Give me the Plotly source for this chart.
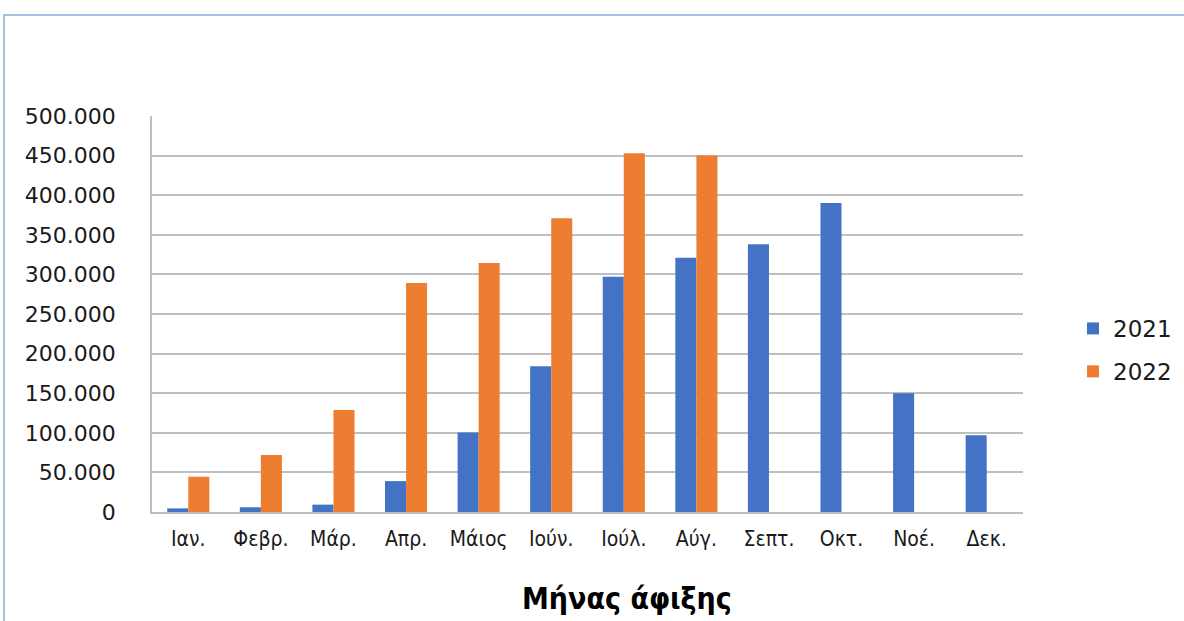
import plotly.graph_objects as go

months = ["Ιαν.", "Φεβρ.", "Μάρ.", "Απρ.", "Μάιος", "Ιούν.", "Ιούλ.", "Αύγ.", "Σεπτ.", "Οκτ.", "Νοέ.", "Δεκ."]
y2021 = [4600, 6000, 9300, 39000, 100500, 184000, 297000, 321000, 338000, 390000, 150000, 97000]
y2022 = [44600, 72000, 128700, 289000, 314500, 371000, 453000, 450000, None, None, None, None]
tick_vals = [0, 50000, 100000, 150000, 200000, 250000, 300000, 350000, 400000, 450000, 500000]
x_title = "Μήνας άφιξης"

W, H = 1184, 621
L, R, T, B = 152, 161, 116, 109
pw, ph = W - L - R, H - T - B

fig = go.Figure()
fig.add_trace(go.Bar(x=months, y=y2021, name="2021", legendgroup="a",
                     marker=dict(color="#4472c4", line=dict(width=0))))
fig.add_trace(go.Bar(x=months, y=y2022, name="2022", legendgroup="b",
                     marker=dict(color="#ed7d31", line=dict(width=0))))

fig.update_layout(
    width=W, height=H, autosize=False,
    margin=dict(l=L, r=R, t=T, b=B, pad=0, autoexpand=False),
    paper_bgcolor="white", plot_bgcolor="white",
    barmode="group", bargap=0.42, bargroupgap=0,
    separators=",.",
    showlegend=True,
    legend=dict(x=(1073 - L) / pw, y=(512 - 350) / ph, xanchor="left", yanchor="middle",
                font=dict(family="DejaVu Sans", size=23, color="#1a1a1a"),
                itemwidth=30, tracegroupgap=10, bgcolor="rgba(0,0,0,0)"),
    font=dict(family="DejaVu Sans", color="#262626"),
)
fig.update_yaxes(
    range=[0, 500000], tickvals=tick_vals, tickformat=",d",
    showgrid=True, gridcolor="#bfbfbf", gridwidth=1.5,
    showline=True, linecolor="#bfbfbf", linewidth=1.5,
    zeroline=False, ticks="", ticklen=0, ticklabelstandoff=30,
    tickfont=dict(family="DejaVu Sans", size=22, color="#1a1a1a"),
)
fig.update_xaxes(
    showline=True, linecolor="#bfbfbf", linewidth=1.5,
    ticks="", ticklabelstandoff=7,
    tickfont=dict(family="DejaVu Sans Condensed, Liberation Sans Narrow", size=21, color="#1a1a1a"),
)
fig.add_annotation(text="<b>" + x_title + "</b>", xref="paper", yref="paper",
                   x=(627 - L) / pw, y=(512 - 598) / ph, xanchor="center", yanchor="middle",
                   showarrow=False, font=dict(family="DejaVu Sans Condensed", size=30, color="#000000"))
# outer frame (top and left edges visible)
fig.add_shape(type="rect", xref="paper", yref="paper",
              x0=(4 - L) / pw, x1=(W + 20 - L) / pw, y0=(512 - (H + 20)) / ph, y1=(512 - 15) / ph,
              line=dict(color="#8eaadb", width=1.5), fillcolor="rgba(0,0,0,0)", layer="below")

post = ("document.body.style.margin='0';document.body.style.padding='0';"
        "document.body.style.overflow='hidden';"
        "var gd=document.getElementById('{plot_id}');"
        "gd.style.width='1184px';gd.style.height='621px';"
        "Plotly.relayout(gd,{width:1184,height:621});")
fig.write_html("out.html", config={"displayModeBar": False, "responsive": False}, post_script=post)
